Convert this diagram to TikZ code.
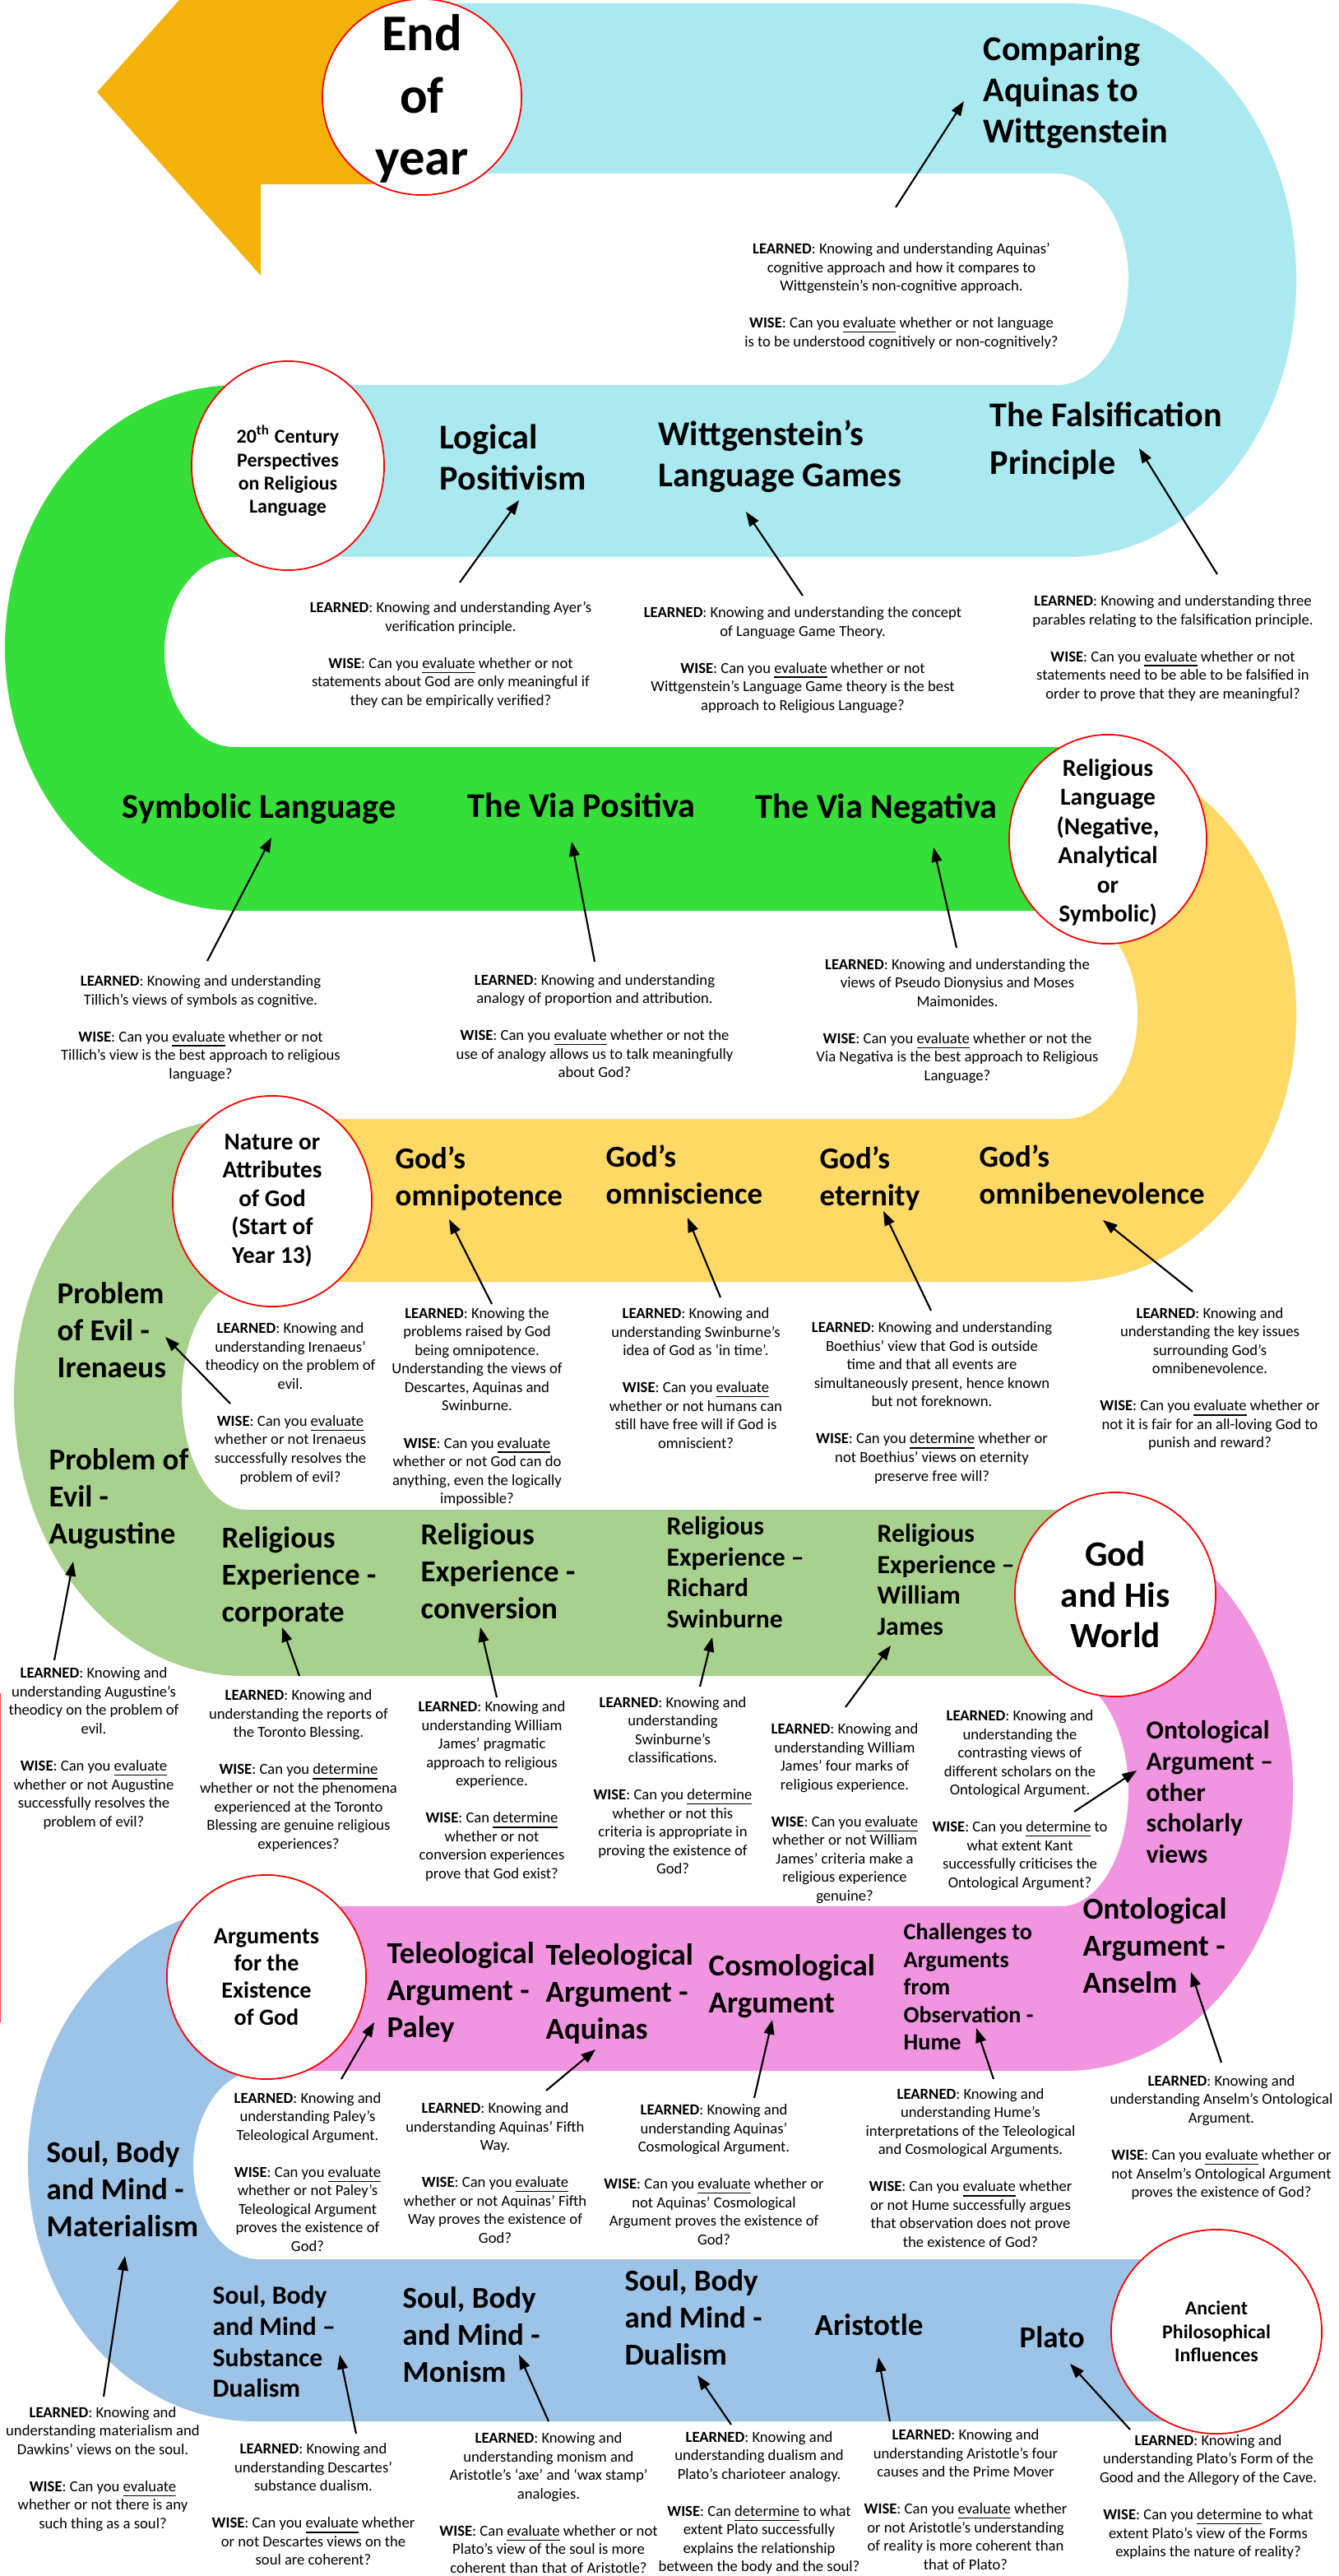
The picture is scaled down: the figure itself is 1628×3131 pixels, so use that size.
\documentclass[tikz,border=0pt]{standalone}
\usepackage{fontspec}
\setmainfont{Carlito}
\usetikzlibrary{shapes.geometric, arrows.meta, positioning}

\definecolor{skyband}{HTML}{A9E9EF}
\definecolor{limeband}{HTML}{35DE38}
\definecolor{goldband}{HTML}{FFD966}
\definecolor{sageband}{HTML}{A9D18E}
\definecolor{pinkband}{HTML}{F195E0}
\definecolor{blueband}{HTML}{9DC3E6}
\definecolor{arrowband}{HTML}{F5B20B}

\newcommand{\learned}{\textbf{LEARNED}: }
\newcommand{\wise}{\textbf{WISE}: }
\newcommand{\uev}{\underline{evaluate}}
\newcommand{\udt}{\underline{determine}}

\tikzset{
  hub/.style={ellipse, draw=red, line width=0.5pt, fill=white, inner sep=0pt},
  hubtext/.style 2 args={font={\bfseries\fontsize{#1}{#2}\selectfont}, align=center, inner sep=0pt},
  topic/.style 2 args={font={\bfseries\fontsize{#1}{#2}\selectfont}, align=left, anchor=west, inner sep=0pt},
  tbig/.style={topic={12}{14.2}},
  tmid/.style={topic={10.5}{12.8}},
  tsmall/.style={topic={9}{10.8}},
  ttiny/.style={topic={8}{9.5}},
  note/.style={font={\fontsize{5.3}{6.4}\selectfont}, align=center, inner sep=0pt},
  pointer/.style={-{Triangle[length=5pt,width=3.6pt]}, line width=0.6pt},
}

\begin{document}
\begin{tikzpicture}[x=0.01cm, y=-0.01cm]
\useasboundingbox (0,0) rectangle (1628,3131);
\fill[white] (0,0) rectangle (1628,3131);

% the road
\fill[arrowband] (218,0) -- (513,0) -- (513,224) -- (317,224) -- (317,335) -- (118,112) -- cycle;
\fill[skyband] (513,4) -- (1298,4) arc[start angle=-90, end angle=90, x radius=278, y radius=336.5]
  -- (350,677) -- (350,468) -- (1285,468) arc[start angle=90, end angle=-90, x radius=87, y radius=128.5]
  -- (513,211) -- cycle;
\fill[limeband] (350,468) -- (290,468) arc[start angle=-90, end angle=-270, x radius=284, y radius=319.5]
  -- (1347,1107) -- (1347,908) -- (285,908) arc[start angle=90, end angle=270, x radius=85, y radius=115.5]
  -- (350,677) -- cycle;
\fill[goldband] (1347,908) -- (1298,908) arc[start angle=-90, end angle=90, x radius=278, y radius=325]
  -- (331,1558) -- (331,1360) -- (1295,1360) arc[start angle=90, end angle=-90, x radius=88, y radius=126.5]
  -- (1347,1107) -- cycle;
\fill[sageband] (331,1360) -- (295,1360) arc[start angle=-90, end angle=-270, x radius=278, y radius=338.5]
  -- (1356,2037) -- (1356,1835) -- (300,1835) arc[start angle=90, end angle=270, x radius=79, y radius=138.5]
  -- (331,1558) -- cycle;
\fill[pinkband] (1356,1835) -- (1296,1835) arc[start angle=-90, end angle=90, x radius=276, y radius=341]
  -- (324,2517) -- (324,2317) -- (1290,2317) arc[start angle=90, end angle=-90, x radius=82, y radius=140]
  -- (1356,2037) -- cycle;
\fill[blueband] (324,2317) -- (310,2317) arc[start angle=-90, end angle=-270, x radius=276, y radius=313]
  -- (1479,2943) -- (1479,2746) -- (315,2746) arc[start angle=90, end angle=270, x radius=80, y radius=114.5]
  -- (324,2517) -- cycle;
\draw[red!75, line width=0.4pt] (0.6,2058) -- (0.6,2458);

% stops
\node[hub, minimum width=2.42cm, minimum height=2.38cm] (endyear) at (513,118) {};
\node[hubtext={17.8}{21.6}] (endyearT) at (513,120) {End\\of\\year};
\node[hub, minimum width=2.34cm, minimum height=2.54cm] (century) at (350,566) {};
\node[hubtext={6.8}{8}] (centuryT) at (350,572) {20\textsuperscript{th} Century\\Perspectives\\on Religious\\Language};
\node[hub, minimum width=2.40cm, minimum height=2.54cm] (rellang) at (1347,1020) {};
\node[hubtext={8.4}{10.1}] (rellangT) at (1347,1024) {Religious\\Language\\(Negative,\\Analytical\\or\\Symbolic)};
\node[hub, minimum width=2.42cm, minimum height=2.56cm] (nature) at (331,1460) {};
\node[hubtext={8.3}{9.8}] (natureT) at (331,1459) {Nature or\\Attributes\\of God\\(Start of\\Year 13)};
\node[hub, minimum width=2.44cm, minimum height=2.48cm] (world) at (1356,1938) {};
\node[hubtext={12.3}{14.2}] (worldT) at (1356,1938) {God\\and His\\World};
\node[hub, minimum width=2.42cm, minimum height=2.48cm] (argum) at (324,2403) {};
\node[hubtext={8}{9.4}] (argumT) at (324,2403) {Arguments\\for the\\Existence\\of God};
\node[hub, minimum width=2.56cm, minimum height=2.48cm] (ancient) at (1479,2834) {};
\node[hubtext={6.8}{8.1}] (ancientT) at (1479,2834) {Ancient\\Philosophical\\Influences};

% topics
\node[tbig] (cmp) at (1195,112) {Comparing\\Aquinas to\\Wittgenstein};
\node[tbig] (logpos) at (534,556) {Logical\\Positivism};
\node[tbig] (games) at (800,555) {Wittgenstein’s\\Language Games};
\node[topic={12}{16.5}] (falsif) at (1203,536) {The Falsification\\Principle};
\node[tbig] (symb) at (148,983) {Symbolic Language};
\node[tbig] (viapos) at (568,979) {The Via Positiva};
\node[tbig] (vianeg) at (918,983) {The Via Negativa};
\node[tmid] (omnipot) at (480,1432) {God’s\\omnipotence};
\node[tmid] (omnisci) at (736,1428) {God’s\\omniscience};
\node[tmid] (etern) at (996,1432) {God’s\\eternity};
\node[tmid] (omniben) at (1190,1428) {God’s\\omnibenevolence};
\node[tmid] (iren) at (69,1617) {Problem\\of Evil -\\Irenaeus};
\node[tmid] (augus) at (59,1822) {Problem of\\Evil -\\Augustine};
\node[tmid] (corpor) at (269,1916) {Religious\\Experience -\\corporate};
\node[tmid] (convers) at (511,1910) {Religious\\Experience -\\conversion};
\node[tsmall] (swinb) at (810,1911) {Religious\\Experience –\\Richard\\Swinburne};
\node[tsmall] (james) at (1066,1920) {Religious\\Experience –\\William\\James};
\node[tsmall] (ontoth) at (1393,2178) {Ontological\\Argument –\\other\\scholarly\\views};
\node[tmid] (anselm) at (1316,2365) {Ontological\\Argument -\\Anselm};
\node[tmid] (paley) at (470,2421) {Teleological\\Argument -\\Paley};
\node[tmid] (aquin) at (663,2423) {Teleological\\Argument -\\Aquinas};
\node[tmid] (cosmo) at (861,2414) {Cosmological\\Argument};
\node[ttiny] (hume) at (1098,2415) {Challenges to\\Arguments\\from\\Observation -\\Hume};
\node[tmid] (mater) at (56,2661) {Soul, Body\\and Mind -\\Materialism};
\node[tsmall] (substa) at (258,2846) {Soul, Body\\and Mind –\\Substance\\Dualism};
\node[tmid] (monism) at (489,2838) {Soul, Body\\and Mind -\\Monism};
\node[tmid] (dualism) at (759,2817) {Soul, Body\\and Mind -\\Dualism};
\node[tmid] (aristo) at (990,2826) {Aristotle};
\node[tmid] (plato) at (1239,2841) {Plato};

% learned / wise
\node[note] (cmpN) at (1096,360) {\learned Knowing and understanding Aquinas’\\cognitive approach and how it compares to\\Wittgenstein’s non-cognitive approach.\\[6.4pt]\wise Can you \uev{} whether or not language\\is to be understood cognitively or non-cognitively?};
\node[note] (logposN) at (548,796) {\learned Knowing and understanding Ayer’s\\verification principle.\\[6.4pt]\wise Can you \uev{} whether or not\\statements about God are only meaningful if\\they can be empirically verified?};
\node[note] (gamesN) at (976,802) {\learned Knowing and understanding the concept\\of Language Game Theory.\\[6.4pt]\wise Can you \uev{} whether or not\\Wittgenstein’s Language Game theory is the best\\approach to Religious Language?};
\node[note] (falsifN) at (1426,788) {\learned Knowing and understanding three\\parables relating to the falsification principle.\\[6.4pt]\wise Can you \uev{} whether or not\\statements need to be able to be falsified in\\order to prove that they are meaningful?};
\node[note] (symbN) at (244,1250) {\learned Knowing and understanding\\Tillich’s views of symbols as cognitive.\\[6.4pt]\wise Can you \uev{} whether or not\\Tillich’s view is the best approach to religious\\language?};
\node[note] (viaposN) at (723,1247) {\learned Knowing and understanding\\analogy of proportion and attribution.\\[6.4pt]\wise Can you \uev{} whether or not the\\use of analogy allows us to talk meaningfully\\about God?};
\node[note] (vianegN) at (1164,1241) {\learned Knowing and understanding the\\views of Pseudo Dionysius and Moses\\Maimonides.\\[6.4pt]\wise Can you \uev{} whether or not the\\Via Negativa is the best approach to Religious\\Language?};
\node[note] (omnipotN) at (580,1710) {\learned Knowing the\\problems raised by God\\being omnipotence.\\Understanding the views of\\Descartes, Aquinas and\\Swinburne.\\[6.4pt]\wise Can you \uev{}\\whether or not God can do\\anything, even the logically\\impossible?};
\node[note] (omnisciN) at (846,1675) {\learned Knowing and\\understanding Swinburne’s\\idea of God as ‘in time’.\\[6.4pt]\wise Can you \uev{}\\whether or not humans can\\still have free will if God is\\omniscient?};
\node[note] (eternN) at (1133,1705) {\learned Knowing and understanding\\Boethius’ view that God is outside\\time and that all events are\\simultaneously present, hence known\\but not foreknown.\\[6.4pt]\wise Can you \udt{} whether or\\not Boethius’ views on eternity\\preserve free will?};
\node[note] (omnibenN) at (1471,1676) {\learned Knowing and\\understanding the key issues\\surrounding God’s\\omnibenevolence.\\[6.4pt]\wise Can you \uev{} whether or\\not it is fair for an all-loving God to\\punish and reward?};
\node[note] (irenN) at (353,1706) {\learned Knowing and\\understanding Irenaeus’\\theodicy on the problem of\\evil.\\[6.4pt]\wise Can you \uev{}\\whether or not Irenaeus\\successfully resolves the\\problem of evil?};
\node[note] (augusN) at (114,2125) {\learned Knowing and\\understanding Augustine’s\\theodicy on the problem of\\evil.\\[6.4pt]\wise Can you \uev{}\\whether or not Augustine\\successfully resolves the\\problem of evil?};
\node[note] (corporN) at (363,2152) {\learned Knowing and\\understanding the reports of\\the Toronto Blessing.\\[6.4pt]\wise Can you \udt{}\\whether or not the phenomena\\experienced at the Toronto\\Blessing are genuine religious\\experiences?};
\node[note] (conversN) at (598,2177) {\learned Knowing and\\understanding William\\James’ pragmatic\\approach to religious\\experience.\\[6.4pt]\wise Can \udt{}\\whether or not\\conversion experiences\\prove that God exist?};
\node[note] (swinbN) at (818,2170) {\learned Knowing and\\understanding\\Swinburne’s\\classifications.\\[6.4pt]\wise Can you \udt{}\\whether or not this\\criteria is appropriate in\\proving the existence of\\God?};
\node[note] (jamesN) at (1027,2204) {\learned Knowing and\\understanding William\\James’ four marks of\\religious experience.\\[6.4pt]\wise Can you \uev{}\\whether or not William\\James’ criteria make a\\religious experience\\genuine?};
\node[note] (ontothN) at (1240,2188) {\learned Knowing and\\understanding the\\contrasting views of\\different scholars on the\\Ontological Argument.\\[6.4pt]\wise Can you \udt{} to\\what extent Kant\\successfully criticises the\\Ontological Argument?};
\node[note] (anselmN) at (1485,2598) {\learned Knowing and\\understanding Anselm’s Ontological\\Argument.\\[6.4pt]\wise Can you \uev{} whether or\\not Anselm’s Ontological Argument\\proves the existence of God?};
\node[note] (paleyN) at (374,2640) {\learned Knowing and\\understanding Paley’s\\Teleological Argument.\\[6.4pt]\wise Can you \uev{}\\whether or not Paley’s\\Teleological Argument\\proves the existence of\\God?};
\node[note] (aquinN) at (602,2641) {\learned Knowing and\\understanding Aquinas’ Fifth\\Way.\\[6.4pt]\wise Can you \uev{}\\whether or not Aquinas’ Fifth\\Way proves the existence of\\God?};
\node[note] (cosmoN) at (868,2643) {\learned Knowing and\\understanding Aquinas’\\Cosmological Argument.\\[6.4pt]\wise Can you \uev{} whether or\\not Aquinas’ Cosmological\\Argument proves the existence of\\God?};
\node[note] (humeN) at (1180,2635) {\learned Knowing and\\understanding Hume’s\\interpretations of the Teleological\\and Cosmological Arguments.\\[6.4pt]\wise Can you \uev{} whether\\or not Hume successfully argues\\that observation does not prove\\the existence of God?};
\node[note] (materN) at (125,3001) {\learned Knowing and\\understanding materialism and\\Dawkins’ views on the soul.\\[6.4pt]\wise Can you \uev{}\\whether or not there is any\\such thing as a soul?};
\node[note] (substaN) at (381,3044) {\learned Knowing and\\understanding Descartes’\\substance dualism.\\[6.4pt]\wise Can you \uev{} whether\\or not Descartes views on the\\soul are coherent?};
\node[note] (monismN) at (667,3042) {\learned Knowing and\\understanding monism and\\Aristotle’s ‘axe’ and ‘wax stamp’\\analogies.\\[6.4pt]\wise Can \uev{} whether or not\\Plato’s view of the soul is more\\coherent than that of Aristotle?};
\node[note] (dualismN) at (923,3042) {\learned Knowing and\\understanding dualism and\\Plato’s charioteer analogy.\\[6.4pt]\wise Can \udt{} to what\\extent Plato successfully\\explains the relationship\\between the body and the soul?};
\node[note] (aristoN) at (1174,3038) {\learned Knowing and\\understanding Aristotle’s four\\causes and the Prime Mover\\[6.4pt]\wise Can you \uev{} whether\\or not Aristotle’s understanding\\of reality is more coherent than\\that of Plato?};
\node[note] (platoN) at (1469,3035) {\learned Knowing and\\understanding Plato’s Form of the\\Good and the Allegory of the Cave.\\[6.4pt]\wise Can you \udt{} to what\\extent Plato’s view of the Forms\\explains the nature of reality?};

% pointers
\draw[pointer] ([shift={(-7,-108)}]cmpN.center) -- ([shift={(-23,11)}]cmp.west);
\draw[pointer] ([shift={(11,-88)}]logposN.center) -- ([shift={(97,52)}]logpos.west);
\draw[pointer] ([shift={(0,-78)}]gamesN.center) -- ([shift={(107,67)}]games.west);
\draw[pointer] ([shift={(54,-90)}]falsifN.center) -- ([shift={(182,9)}]falsif.west);
\draw[pointer] ([shift={(8,-82)}]symbN.center) -- ([shift={(182,35)}]symb.west);
\draw[pointer] ([shift={(0,-78)}]viaposN.center) -- ([shift={(127,44)}]viapos.west);
\draw[pointer] ([shift={(-1,-89)}]vianegN.center) -- ([shift={(217,47)}]vianeg.west);
\draw[pointer] ([shift={(18,-125)}]omnipotN.center) -- ([shift={(66,50)}]omnipot.west);
\draw[pointer] ([shift={(30,-98)}]omnisciN.center) -- ([shift={(100,52)}]omnisci.west);
\draw[pointer] ([shift={(-1,-112)}]eternN.center) -- ([shift={(78,40)}]etern.west);
\draw[pointer] ([shift={(-21,-106)}]omnibenN.center) -- ([shift={(151,55)}]omniben.west);
\draw[pointer] ([shift={(-73,0)}]irenN.center) -- ([shift={(132,8)}]iren.west);
\draw[pointer] ([shift={(-48,-107)}]augusN.center) -- ([shift={(30,76)}]augus.west);
\draw[pointer] ([shift={(1,-115)}]corporN.center) -- ([shift={(74,62)}]corpor.west);
\draw[pointer] ([shift={(6,-114)}]conversN.center) -- ([shift={(73,68)}]convers.west);
\draw[pointer] ([shift={(33,-120)}]swinbN.center) -- ([shift={(56,79)}]swinb.west);
\draw[pointer] ([shift={(1,-129)}]jamesN.center) -- ([shift={(17,80)}]james.west);
\draw[pointer] ([shift={(66,14)}]ontothN.center) -- ([shift={(-11,-26)}]ontoth.west);
\draw[pointer] ([shift={(0,-91)}]anselmN.center) -- ([shift={(132,32)}]anselm.west);
\draw[pointer] ([shift={(41,-113)}]paleyN.center) -- ([shift={(-15,37)}]paley.west);
\draw[pointer] ([shift={(62,-100)}]aquinN.center) -- ([shift={(61,68)}]aquin.west);
\draw[pointer] ([shift={(49,-93)}]cosmoN.center) -- ([shift={(78,41)}]cosmo.west);
\draw[pointer] ([shift={(28,-108)}]humeN.center) -- ([shift={(89,50)}]hume.west);
\draw[pointer] ([shift={(1,-88)}]materN.center) -- ([shift={(96,81)}]mater.west);
\draw[pointer] ([shift={(52,-86)}]substaN.center) -- ([shift={(155,16)}]substa.west);
\draw[pointer] ([shift={(0,-99)}]monismN.center) -- ([shift={(142,24)}]monism.west);
\draw[pointer] ([shift={(-34,-95)}]dualismN.center) -- ([shift={(89,70)}]dualism.west);
\draw[pointer] ([shift={(-92,-95)}]aristoN.center) -- ([shift={(78,39)}]aristo.west);
\draw[pointer] ([shift={(-95,-82)}]platoN.center) -- ([shift={(62,32)}]plato.west);
\end{tikzpicture}
\end{document}
